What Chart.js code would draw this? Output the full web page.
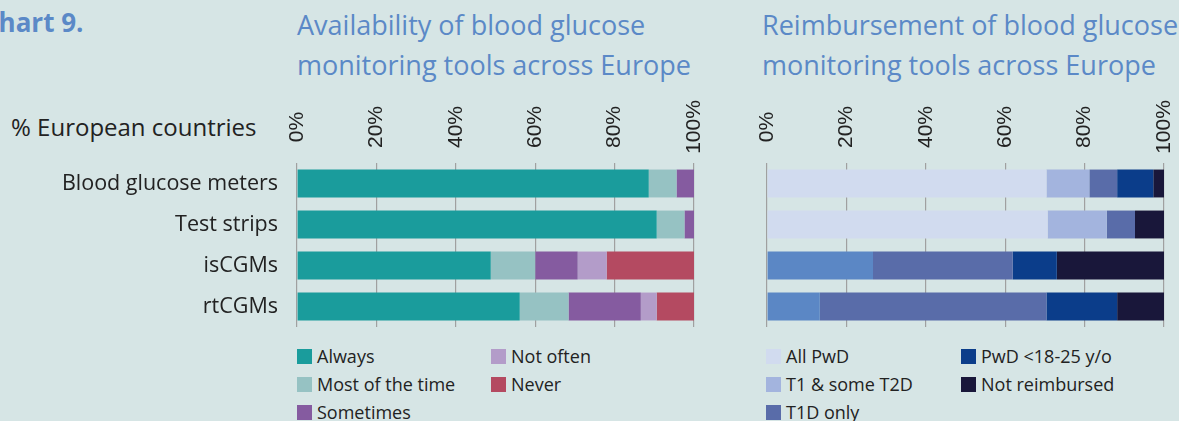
<!DOCTYPE html>
<html>
<head>
<meta charset="utf-8">
<script src="https://cdn.jsdelivr.net/npm/chart.js@4.4.1/dist/chart.umd.min.js"></script>
<style>
body{margin:0;width:1179px;height:421px;background:#d6e5e5;overflow:hidden;position:relative;font-family:"Open Sans","Noto Sans",sans-serif;color:#222;}
.t{position:absolute;color:#5b89c7;font-size:27px;line-height:40px;white-space:nowrap;}
#chartNo{position:absolute;left:-18px;top:4px;color:#5b89c7;font-size:26px;font-weight:bold;white-space:nowrap;}
#yTitle{position:absolute;left:11px;top:110px;font-size:24px;white-space:nowrap;}
.box{position:absolute;}
.legend{position:absolute;top:342px;font-size:18px;display:grid;grid-auto-flow:column;grid-template-rows:28px 28px 28px;column-gap:0;}
.legend div{display:flex;align-items:center;white-space:nowrap;}
.legend span{display:inline-block;width:15px;height:15px;margin-right:5px;}
</style>
</head>
<body>
<div id="chartNo">Chart 9.</div>
<div class="t" style="left:297px;top:5px">Availability of blood glucose<br>monitoring tools across Europe</div>
<div class="t" style="left:762px;top:5px">Reimbursement of blood glucose<br>monitoring tools across Europe</div>
<div id="yTitle">% European countries</div>

<div class="box" style="left:0;top:0;width:720px;height:340px"><canvas id="availChart"></canvas></div>
<div class="box" style="left:740px;top:0;width:439px;height:340px"><canvas id="reimbChart"></canvas></div>
<div class="legend" id="availLegend" style="left:297px;grid-template-columns:194px 200px"></div>
<div class="legend" id="reimbLegend" style="left:766px;grid-template-columns:195px 200px"></div>

<script>
// categories and tick labels
const tools=['Blood glucose meters','Test strips','isCGMs','rtCGMs'];
const tickValues=[0,20,40,60,80,100];

// Availability (% of countries)
const always=[88.6,90.6,48.8,56.1];
const mostOfTime=[7.0,7.0,11.2,12.3];
const sometimes=[4.4,2.4,10.7,18.2];
const notOften=[0,0,7.3,4.0];
const never=[0,0,22.0,9.4];

// Reimbursement (% of countries)
const allPwd=[70.4,70.7,0,0];
const t1SomeT2d=[10.8,14.9,0,0];
const t1SomeT2dCgm=[0,0,26.7,13.3];
const t1dOnly=[7.0,7.1,35.2,57.1];
const pwdYoung=[9.1,0,11.1,17.8];
const notReimbursed=[2.7,7.3,27.0,11.8];

const gridColor='#a0a0a0';

// draws the rotated % labels centred above each gridline
const topTicks={
id:'topTicks',
afterDraw(chart){
const ctx=chart.ctx;
const x=chart.scales.x;
ctx.save();
ctx.fillStyle='#222';
ctx.font='21px "Liberation Sans", Arial, sans-serif';
ctx.textAlign='center';
ctx.textBaseline='middle';
tickValues.forEach(v=>{
ctx.save();
ctx.translate(x.getPixelForValue(v),127);
ctx.rotate(-Math.PI/2);
ctx.fillText(v+'%',0,0);
ctx.restore();
});
ctx.restore();
}
};

function makeChart(el,datasets,showY,padding){
return new Chart(el,{
type:'bar',
data:{labels:tools,datasets:datasets},
options:{
indexAxis:'y',
responsive:true,
maintainAspectRatio:false,
animation:false,
layout:{padding:padding},
datasets:{bar:{categoryPercentage:1,barPercentage:0.68,borderWidth:0}},
plugins:{legend:{display:false},tooltip:{enabled:false}},
scales:{
x:{
position:'top',stacked:true,min:0,max:100,
ticks:{display:false,stepSize:20},
grid:{color:gridColor,lineWidth:1.2,drawTicks:false},
border:{display:false}
},
y:{
stacked:true,
ticks:{display:showY,padding:19,color:'#222',font:{family:'"Open Sans"',size:21.5}},
grid:{display:false,drawTicks:false},
border:{display:false},
afterFit(scale){
if(showY)scale.width=297-padding.left;
scale.paddingTop=0;
scale.paddingBottom=0;
}
}
}
},
plugins:[topTicks]
});
}

const availSets=[
{label:'Always',data:always,backgroundColor:'#1a9c9c'},
{label:'Most of the time',data:mostOfTime,backgroundColor:'#96c2c3'},
{label:'Sometimes',data:sometimes,backgroundColor:'#855ba0'},
{label:'Not often',data:notOften,backgroundColor:'#b39cc9'},
{label:'Never',data:never,backgroundColor:'#b44a61'}
];

const reimbSets=[
{label:'All PwD',data:allPwd,backgroundColor:'#d1dbef'},
{label:'T1 & some T2D',data:t1SomeT2d,backgroundColor:'#a3b4de'},
{label:'',data:t1SomeT2dCgm,backgroundColor:'#5b87c5',hideInLegend:true},
{label:'T1D only',data:t1dOnly,backgroundColor:'#596ca9'},
{label:'PwD <18-25 y/o',data:pwdYoung,backgroundColor:'#0b3d8a'},
{label:'Not reimbursed',data:notReimbursed,backgroundColor:'#19173a'}
];

const c1=makeChart(document.getElementById('availChart'),availSets,true,{left:0,right:26,top:163,bottom:13});
const c2=makeChart(document.getElementById('reimbChart'),reimbSets,false,{left:27,right:15,top:163,bottom:13});

// html legend from the chart datasets
function buildLegend(chart,id){
const box=document.getElementById(id);
chart.data.datasets.forEach(ds=>{
if(ds.hideInLegend)return;
const d=document.createElement('div');
d.innerHTML='<span style="background:'+ds.backgroundColor+'"></span>'+ds.label;
box.appendChild(d);
});
}
buildLegend(c1,'availLegend');
buildLegend(c2,'reimbLegend');
</script>
</body>
</html>
